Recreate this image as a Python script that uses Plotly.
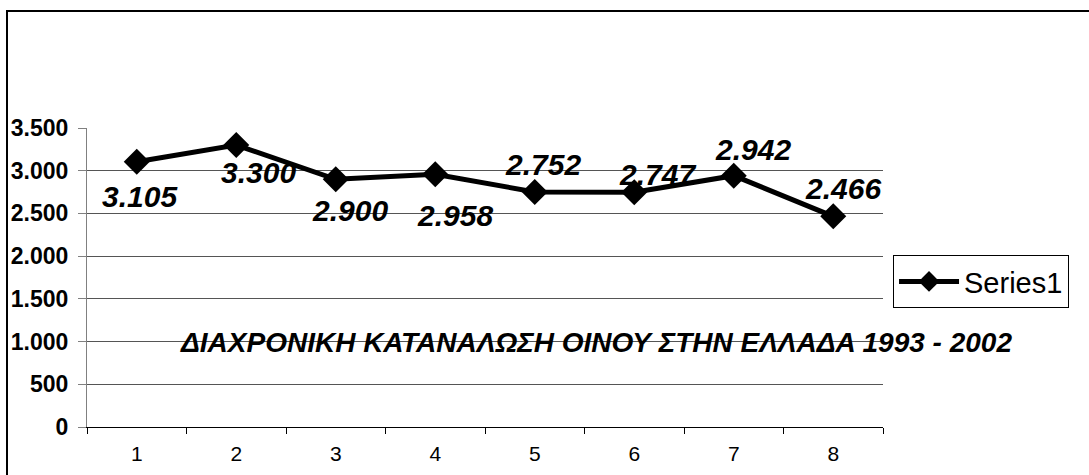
import plotly.graph_objects as go

categories = ["1", "2", "3", "4", "5", "6", "7", "8"]
values = [3105, 3300, 2900, 2958, 2752, 2747, 2942, 2466]
value_labels = ["3.105", "3.300", "2.900", "2.958", "2.752", "2.747", "2.942", "2.466"]
y_tick_values = [0, 500, 1000, 1500, 2000, 2500, 3000, 3500]
y_tick_labels = ["0", "500", "1.000", "1.500", "2.000", "2.500", "3.000", "3.500"]
series_name = "Series1"
title_text = "ΔΙΑΧΡΟΝΙΚΗ ΚΑΤΑΝΑΛΩΣΗ ΟΙΝΟΥ ΣΤΗΝ ΕΛΛΑΔΑ 1993 - 2002"

# label offsets in pixels (style only)
label_shifts = [(3, -35), (22, -27), (14, -31), (20, -41), (8, 27), (23, 18), (19, 26), (10, 28)]

FONT = "Liberation Sans, Arial, sans-serif"

fig = go.Figure()
fig.add_trace(go.Scatter(
    x=categories, y=values, mode="lines+markers", name=series_name,
    line=dict(color="black", width=5),
    marker=dict(symbol="diamond", size=20, color="black"),
))

annotations = []
for i, (v, t, (dx, dy)) in enumerate(zip(values, value_labels, label_shifts)):
    annotations.append(dict(
        x=i, y=v, xref="x", yref="y", text=f"<b><i>{t}</i></b>",
        showarrow=False, xshift=dx, yshift=dy,
        font=dict(family=FONT, size=30, color="black"),
    ))
annotations.append(dict(
    x=0.64, y=1000, xref="paper", yref="y", text=f"<b><i>{title_text}</i></b>",
    showarrow=False, yshift=-1, xanchor="center",
    font=dict(family=FONT, size=28, color="black"),
))

fig.update_layout(
    width=1089, height=475,
    margin=dict(l=87, r=206, t=128, b=48),
    paper_bgcolor="white", plot_bgcolor="white",
    showlegend=True,
    legend=dict(
        x=1.0126, y=0.575, xanchor="left", yanchor="top",
        bordercolor="black", borderwidth=1, bgcolor="white",
        font=dict(family=FONT, size=29, color="black"),
        itemwidth=60, tracegroupgap=0,
        entrywidth=130, entrywidthmode="pixels",
    ),
    annotations=annotations,
    shapes=[dict(type="rect", xref="paper", yref="paper",
                 x0=-0.1005, x1=1.4, y0=-0.4, y1=1.391,
                 line=dict(color="black", width=2), fillcolor="rgba(0,0,0,0)")],
    xaxis=dict(
        type="category", range=[-0.5, 7.5], automargin=False,
        showline=True, linecolor="black", linewidth=1,
        ticks="outside", tickson="boundaries", ticklen=6, tickcolor="black",
        ticklabelstandoff=8,
        showgrid=False, zeroline=False,
        tickfont=dict(family=FONT, size=21, color="black"),
    ),
    yaxis=dict(
        range=[0, 3500], tickvals=y_tick_values, ticktext=y_tick_labels,
        automargin=False,
        showline=True, linecolor="#808080", linewidth=1,
        ticks="outside", ticklen=8, tickcolor="#808080",
        ticklabelstandoff=5,
        showgrid=True, gridcolor="#555555", gridwidth=1, zeroline=False,
        tickfont=dict(family=FONT, size=23, color="black", weight="bold"),
    ),
)

fig.write_html("out.html", config={"displayModeBar": False},
               post_script="document.body.style.margin='0px';")
